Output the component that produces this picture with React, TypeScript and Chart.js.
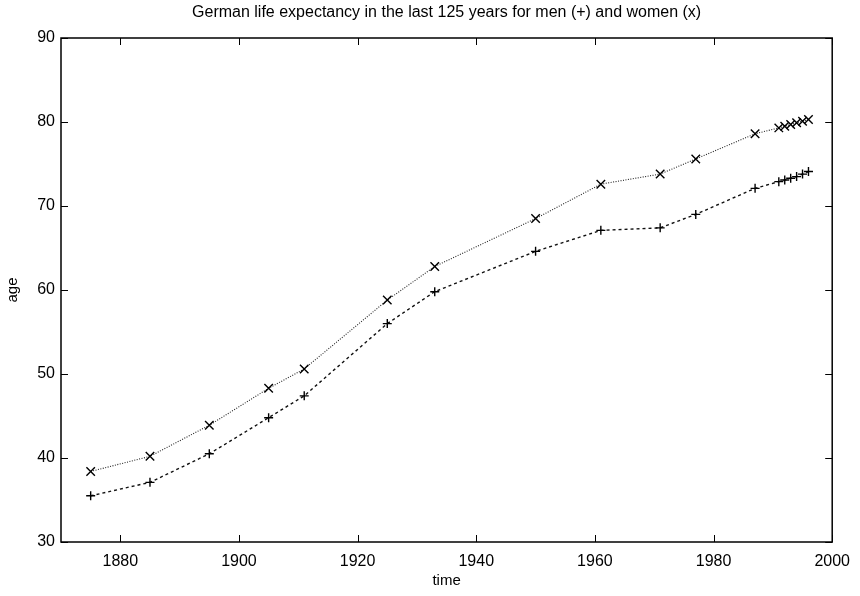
import React, { useEffect, useRef } from "react";
import { Chart, registerables } from "chart.js";

Chart.register(...registerables);

const years = [1875, 1885, 1895, 1905, 1911, 1925, 1933, 1950, 1961, 1971, 1977, 1987, 1991, 1992, 1993, 1994, 1995, 1996];
const men = [35.5, 37.1, 40.5, 44.8, 47.4, 56.0, 59.8, 64.6, 67.1, 67.4, 69.0, 72.1, 72.9, 73.1, 73.3, 73.5, 73.8, 74.1];
const women = [38.4, 40.2, 43.9, 48.3, 50.6, 58.8, 62.8, 68.5, 72.6, 73.8, 75.6, 78.6, 79.3, 79.5, 79.7, 79.9, 80.1, 80.3];
const xTicks = [1880, 1900, 1920, 1940, 1960, 1980, 2000];
const yTicks = [30, 40, 50, 60, 70, 80, 90];

const titleText = "German life expectancy in the last 125 years for men (+) and women (x)";
const FONT = "'Liberation Sans', Arial, Helvetica, sans-serif";

const boxTicks = {
  id: "boxTicks",
  afterDatasetsDraw(chart: any) {
    const { ctx, chartArea, scales } = chart;
    const { left, right, top, bottom } = chartArea;
    const x = scales.x;
    const y = scales.y;
    const len = 7;
    ctx.save();
    ctx.strokeStyle = "#000";
    ctx.lineWidth = 1;
    ctx.beginPath();
    x.ticks.forEach((t: any) => {
      const px = Math.round(x.getPixelForValue(t.value)) + 0.5;
      ctx.moveTo(px, bottom);
      ctx.lineTo(px, bottom - len);
      ctx.moveTo(px, top);
      ctx.lineTo(px, top + len);
    });
    y.ticks.forEach((t: any) => {
      const py = Math.round(y.getPixelForValue(t.value)) + 0.5;
      ctx.moveTo(left, py);
      ctx.lineTo(left + len, py);
      ctx.moveTo(right, py);
      ctx.lineTo(right - len, py);
    });
    ctx.stroke();
    ctx.lineWidth = 1.5;
    ctx.strokeRect(left, top, right - left, bottom - top);
    // title centred over the plot area
    ctx.fillStyle = "#000";
    ctx.font = `16px ${FONT}`;
    ctx.textAlign = "center";
    ctx.textBaseline = "middle";
    ctx.fillText(titleText, (left + right) / 2, 13);
    ctx.restore();
  },
};

export default function App() {
  const ref = useRef<HTMLCanvasElement | null>(null);

  useEffect(() => {
    if (!ref.current) return;
    const chart = new Chart(ref.current, {
      type: "line",
      data: {
        datasets: [
          {
            label: "women",
            data: years.map((yr, i) => ({ x: yr, y: women[i] })),
            borderColor: "#222",
            backgroundColor: "#222",
            borderWidth: 1.1,
            borderDash: [1, 1.5],
            pointStyle: "crossRot",
            pointRadius: 6,
            pointBorderWidth: 1.4,
            pointBorderColor: "#000",
            tension: 0,
            fill: false,
          },
          {
            label: "men",
            data: years.map((yr, i) => ({ x: yr, y: men[i] })),
            borderColor: "#111",
            backgroundColor: "#111",
            borderWidth: 1.4,
            borderDash: [3, 3],
            pointStyle: "cross",
            pointRadius: 4.5,
            pointBorderWidth: 1.4,
            pointBorderColor: "#000",
            tension: 0,
            fill: false,
          },
        ],
      },
      options: {
        animation: false,
        responsive: false,
        maintainAspectRatio: false,
        layout: { padding: { left: 0, right: 27, top: 38, bottom: 0 } },
        plugins: {
          legend: { display: false },
          tooltip: { enabled: false },
          title: { display: false },
        },
        scales: {
          x: {
            type: "linear",
            min: 1870,
            max: 2000,
            afterBuildTicks: (s: any) => {
              s.ticks = xTicks.map((v) => ({ value: v }));
            },
            afterFit: (s: any) => {
              s.height = 54;
            },
            grid: { display: false, drawTicks: false },
            border: { display: false },
            ticks: {
              color: "#000",
              font: { family: FONT, size: 16 },
              padding: 10,
              maxRotation: 0,
              callback: (v: any) => String(v),
            },
            title: {
              display: true,
              text: "time",
              color: "#000",
              font: { family: FONT, size: 15 },
              padding: { top: 0, bottom: 6 },
            },
          },
          y: {
            type: "linear",
            min: 30,
            max: 90,
            afterBuildTicks: (s: any) => {
              s.ticks = yTicks.map((v) => ({ value: v }));
            },
            afterFit: (s: any) => {
              s.width = 61;
            },
            grid: { display: false, drawTicks: false },
            border: { display: false },
            ticks: {
              color: "#000",
              font: { family: FONT, size: 16 },
              padding: 6,
              callback: (v: any) => String(v),
            },
            title: {
              display: true,
              text: "age",
              color: "#000",
              font: { family: FONT, size: 15 },
              padding: { top: 4, bottom: 0 },
            },
          },
        },
      },
      plugins: [boxTicks],
    });
    return () => chart.destroy();
  }, []);

  return (
    <div style={{ position: "fixed", left: 0, top: 0, width: 860, height: 596, background: "#fff" }}>
      <canvas ref={ref} width={860} height={596} style={{ width: 860, height: 596, display: "block" }} />
    </div>
  );
}
